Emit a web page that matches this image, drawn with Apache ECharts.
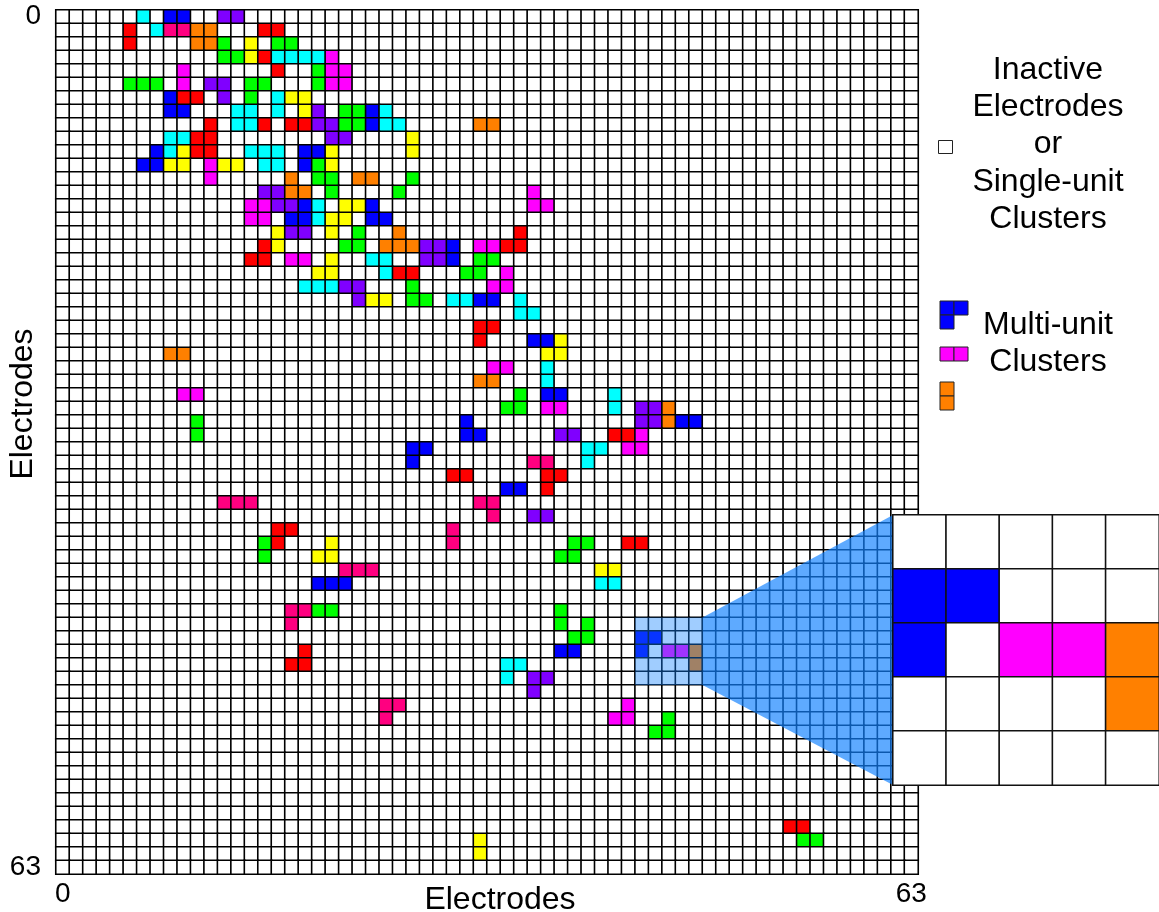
<!DOCTYPE html>
<html><head><meta charset="utf-8">
<script src="https://cdn.jsdelivr.net/npm/echarts@6/dist/echarts.min.js"></script>
<style>html,body{margin:0;padding:0;background:#fff}#c{width:1159px;height:912px}</style>
</head><body><div id="c"></div>
<script>
// ---------------- data ----------------
const CELLS = 64;
const tickLabels = ['0', '63'];
const axisTitle = 'Electrodes';
const legendInactive = ['Inactive', 'Electrodes', 'or', 'Single-unit', 'Clusters'];
const legendMulti = ['Multi-unit', 'Clusters'];
// [column, row] of electrodes belonging to multi-unit clusters, by colour
const red = [[5,1],[15,1],[16,1],[5,2],[15,3],[16,4],[9,6],[10,6],[11,8],[15,8],[17,8],[18,8],[10,9],[11,9],[10,10],[11,10],[34,16],[15,17],[33,17],[34,17],[14,18],[15,18],[25,19],[26,19],[31,23],[32,23],[31,24],[41,31],[42,31],[29,34],[30,34],[36,34],[37,34],[36,35],[16,38],[17,38],[16,39],[42,39],[43,39],[18,47],[17,48],[18,48],[54,60],[55,60]];
const green = [[12,2],[16,2],[17,2],[12,3],[13,3],[19,4],[5,5],[6,5],[7,5],[14,5],[15,5],[19,5],[14,6],[21,7],[22,7],[21,8],[22,8],[19,11],[19,12],[20,12],[26,12],[20,13],[25,13],[22,16],[21,17],[22,17],[31,18],[32,18],[30,19],[31,19],[26,20],[26,21],[27,21],[34,28],[33,29],[34,29],[10,30],[10,31],[15,39],[38,39],[39,39],[15,40],[37,40],[38,40],[19,44],[20,44],[37,44],[37,45],[39,45],[38,46],[39,46],[45,52],[44,53],[45,53],[55,61],[56,61]];
const blue = [[8,0],[9,0],[8,6],[8,7],[9,7],[23,7],[23,8],[7,10],[18,10],[19,10],[6,11],[7,11],[18,11],[18,14],[23,14],[17,15],[18,15],[23,15],[24,15],[29,17],[29,18],[31,21],[32,21],[35,24],[36,24],[36,28],[37,28],[30,30],[46,30],[47,30],[30,31],[31,31],[26,32],[27,32],[26,33],[33,35],[34,35],[19,42],[20,42],[21,42],[43,46],[44,46],[37,47],[38,47],[43,47]];
const cyan = [[6,0],[7,1],[16,3],[17,3],[18,3],[19,3],[16,6],[13,7],[14,7],[16,7],[24,7],[13,8],[14,8],[24,8],[25,8],[8,9],[9,9],[8,10],[14,10],[15,10],[16,10],[15,11],[16,11],[19,14],[19,15],[23,18],[24,18],[24,19],[18,20],[19,20],[20,20],[29,21],[30,21],[34,21],[34,22],[35,22],[36,26],[36,27],[41,28],[41,29],[39,32],[40,32],[39,33],[40,42],[41,42],[33,48],[34,48],[33,49]];
const yellow = [[14,2],[14,3],[17,6],[18,6],[18,7],[26,9],[9,10],[20,10],[26,10],[8,11],[9,11],[12,11],[13,11],[20,11],[21,14],[22,14],[20,15],[21,15],[16,16],[20,16],[16,17],[20,18],[19,19],[20,19],[23,21],[24,21],[37,24],[36,25],[37,25],[20,39],[19,40],[20,40],[40,41],[41,41],[31,61],[31,62]];
const magenta = [[20,3],[9,4],[20,4],[21,4],[9,5],[20,5],[21,5],[11,11],[11,12],[35,13],[14,14],[15,14],[35,14],[36,14],[14,15],[15,15],[31,17],[32,17],[17,18],[18,18],[33,19],[32,20],[33,20],[32,26],[33,26],[9,28],[10,28],[36,29],[37,29],[43,31],[42,32],[43,32],[45,47],[46,47],[42,51],[41,52],[42,52]];
const purple = [[12,0],[13,0],[11,5],[12,5],[12,6],[19,7],[19,8],[20,8],[20,9],[21,9],[15,13],[16,13],[16,14],[17,14],[17,16],[18,16],[27,17],[28,17],[27,18],[28,18],[21,20],[22,20],[22,21],[43,29],[44,29],[43,30],[44,30],[37,31],[38,31],[35,37],[36,37],[35,49],[36,49],[35,50]];
const orange = [[10,1],[11,1],[10,2],[11,2],[31,8],[32,8],[17,12],[22,12],[23,12],[17,13],[18,13],[25,16],[24,17],[25,17],[26,17],[8,25],[9,25],[31,27],[32,27],[45,29],[45,30],[47,47],[47,48]];
const pink = [[8,1],[9,1],[35,33],[36,33],[12,36],[13,36],[14,36],[31,36],[32,36],[32,37],[29,38],[29,39],[21,41],[22,41],[23,41],[17,44],[18,44],[17,45],[24,51],[25,51],[24,52]];
// zoomed window (columns, rows)
const zoomCols = [43, 47];
const zoomRows = [45, 49];

// ---------------- build ----------------
const groups = [red, green, blue, cyan, yellow, magenta, purple, orange, pink];
const palette = ['#ffffff','#ff0000','#00ff00','#0000ff','#00ffff','#ffff00','#ff00ff','#8000ff','#ff8000','#ff0080'];
const board = Array.from({length: CELLS}, () => new Array(CELLS).fill(0));
groups.forEach((g, i) => g.forEach(([c, r]) => { board[r][c] = i + 1; }));
const mainData = [];
for (let r = 0; r < CELLS; r++) for (let c = 0; c < CELLS; c++) mainData.push([c, r, board[r][c]]);
const zw = zoomCols[1] - zoomCols[0] + 1, zh = zoomRows[1] - zoomRows[0] + 1;
const insetData = [];
for (let r = zoomRows[0]; r <= zoomRows[1]; r++)
  for (let c = zoomCols[0]; c <= zoomCols[1]; c++)
    insetData.push([c - zoomCols[0], r - zoomRows[0], board[r][c]]);

const idx = Array.from({length: CELLS}, (_, i) => String(i));
const FONT = '"Liberation Sans", Arial, Helvetica, sans-serif';
const chart = echarts.init(document.getElementById('c'), null, {renderer: 'canvas'});

const hidden = {axisLine:{show:false}, axisTick:{show:false}, splitLine:{show:false}};
const option = {
  animation: false,
  backgroundColor: '#ffffff',
  grid: [
    {left: 56, top: 10, width: 862, height: 864},
    {left: 893, top: 515, width: 269, height: 270}
  ],
  xAxis: [
    Object.assign({type:'category', data: idx, gridIndex:0, position:'bottom',
      axisLabel:{interval:(i)=>i===0||i===CELLS-1, formatter:(v,i)=> i===0?tickLabels[0]:tickLabels[1],
        fontSize:28, color:'#000', fontFamily:FONT, margin:6}}, hidden),
    Object.assign({type:'category', data: Array.from({length:zw},(_, i)=>String(i)), gridIndex:1, axisLabel:{show:false}}, hidden)
  ],
  yAxis: [
    Object.assign({type:'category', data: idx, gridIndex:0, inverse:true,
      axisLabel:{interval:(i)=>i===0||i===CELLS-1, formatter:(v,i)=> i===0?tickLabels[0]:tickLabels[1],
        fontSize:28, color:'#000', fontFamily:FONT, margin:15}}, hidden),
    Object.assign({type:'category', data: Array.from({length:zh},(_, i)=>String(i)), gridIndex:1, inverse:true, axisLabel:{show:false}}, hidden)
  ],
  visualMap: {
    type:'piecewise', show:false, dimension:2, seriesIndex:[0,1],
    pieces: palette.map((col, i) => ({value: i, color: col}))
  },
  series: [
    {type:'heatmap', xAxisIndex:0, yAxisIndex:0, data: mainData, progressive:0, silent:true,
      itemStyle:{borderColor:'#000', borderWidth:1.6}, emphasis:{disabled:true}, z:2},
    {type:'heatmap', xAxisIndex:1, yAxisIndex:1, data: insetData, progressive:0, silent:true,
      itemStyle:{borderColor:'#111', borderWidth:1.6}, emphasis:{disabled:true}, z:20}
  ]
};
chart.setOption(option);

// ---------------- overlays from axis scales ----------------
const p0 = chart.convertToPixel({xAxisIndex:0, yAxisIndex:0}, [0, 0]);
const pN = chart.convertToPixel({xAxisIndex:0, yAxisIndex:0}, [CELLS-1, CELLS-1]);
const bw = (pN[0]-p0[0])/(CELLS-1), bh = (pN[1]-p0[1])/(CELLS-1);
const a = chart.convertToPixel({xAxisIndex:0, yAxisIndex:0}, [zoomCols[0], zoomRows[0]]);
const b = chart.convertToPixel({xAxisIndex:0, yAxisIndex:0}, [zoomCols[1], zoomRows[1]]);
const hx0 = a[0]-bw/2, hy0 = a[1]-bh/2, hx1 = b[0]+bw/2, hy1 = b[1]+bh/2;
const i0 = chart.convertToPixel({xAxisIndex:1, yAxisIndex:1}, [0, 0]);
const i1 = chart.convertToPixel({xAxisIndex:1, yAxisIndex:1}, [zw-1, zh-1]);
const ibw = (i1[0]-i0[0])/(zw-1), ibh = (i1[1]-i0[1])/(zh-1);
const ix0 = i0[0]-ibw/2, iy0 = i0[1]-ibh/2, iy1 = i1[1]+ibh/2;

const txt = (x, y, t, size, extra) => Object.assign({type:'text', x, y,
  style:{text:t, fill:'#000', font:`${size}px ${FONT}`, textAlign:'center', textVerticalAlign:'middle'}}, extra||{});
const cell = (x, y, w, h, fill) => ({type:'rect', shape:{x, y, width:w, height:h},
  style:{fill, stroke:'#222', lineWidth:1}});

const elements = [
  {type:'rect', z:5, shape:{x:hx0, y:hy0, width:hx1-hx0, height:hy1-hy0}, style:{fill:'rgba(17,130,255,0.40)'}},
  {type:'polygon', z:5, shape:{points:[[hx1,hy0],[ix0,iy0],[ix0,iy1],[hx1,hy1]]}, style:{fill:'rgba(17,130,255,0.68)'}},
  txt(500, 900, axisTitle, 32),
  txt(23, 404, axisTitle, 32, {rotation: Math.PI/2})
];
legendInactive.forEach((t, i) => elements.push(txt(1048, 70 + i*37.3, t, 32)));
legendMulti.forEach((t, i) => elements.push(txt(1048, 325 + i*37.3, t, 32)));
const L = 14;
elements.push(cell(938.5, 140.5, L, 13, '#ffffff'));
elements.push(cell(940, 301, L, L, palette[3]), cell(940+L, 301, L, L, palette[3]), cell(940, 301+L, L, L, palette[3]));
elements.push(cell(940, 347, L, L, palette[6]), cell(940+L, 347, L, L, palette[6]));
elements.push(cell(940, 382, L, L, palette[8]), cell(940, 382+L, L, L, palette[8]));

chart.setOption({graphic: {elements}});
</script></body></html>
